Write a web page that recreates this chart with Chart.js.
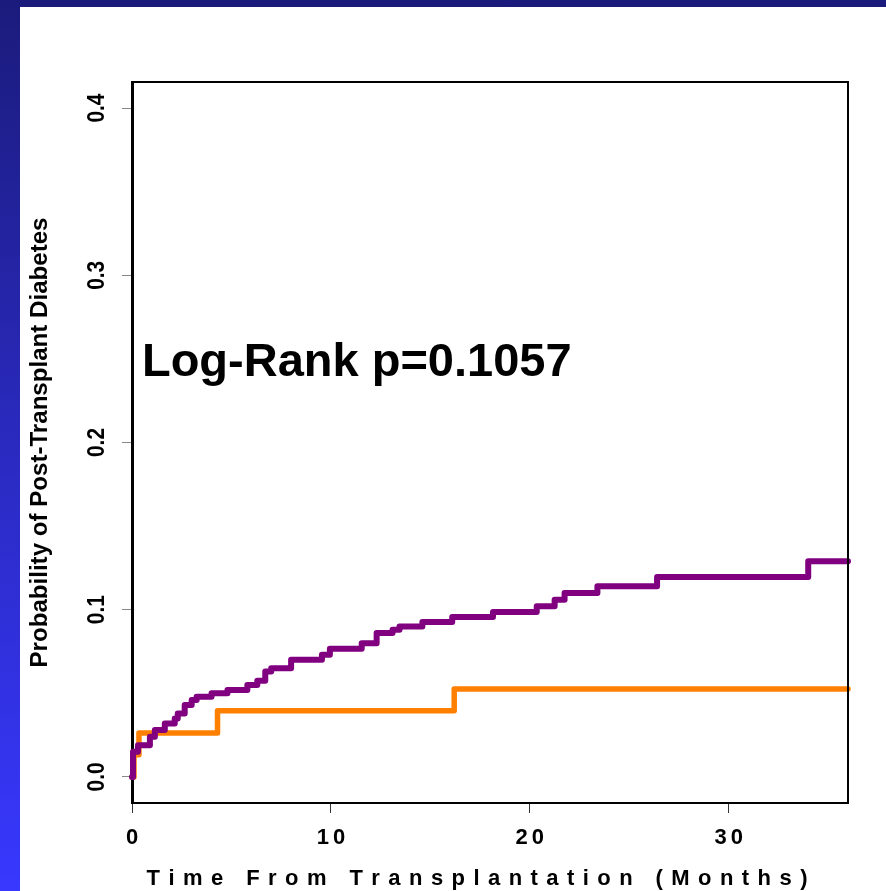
<!DOCTYPE html>
<html>
<head>
<meta charset="utf-8">
<script src="https://cdn.jsdelivr.net/npm/chart.js@4.4.1/dist/chart.umd.min.js"></script>
<style>
  html, body { margin: 0; padding: 0; }
  body {
    width: 886px; height: 891px; overflow: hidden; position: relative;
    background: linear-gradient(to bottom, #1b1b7c 0%, #2a2ac0 50%, #3838ff 100%);
  }
  #panel { position: absolute; left: 20px; top: 7px; width: 866px; height: 884px; background: #fff; }
  canvas { display: block; }
</style>
</head>
<body>
<div id="panel"><canvas id="km" width="866" height="884"></canvas></div>
<script>
// cumulative incidence, months since transplant
const purpleMonths = [0, 0.05, 0.3, 0.9, 1.15, 1.65, 2.15, 2.3, 2.65, 3.0, 3.25, 4.0, 4.8, 5.8, 6.3, 6.7, 7.0, 8.0, 9.55, 9.95, 11.55, 12.3, 13.1, 13.45, 14.6, 16.1, 18.15, 20.35, 21.25, 21.75, 23.4, 26.4, 34.0, 36];
const purpleRisk = [0, 0.015, 0.019, 0.024, 0.028, 0.032, 0.035, 0.038, 0.043, 0.046, 0.048, 0.050, 0.052, 0.055, 0.0575, 0.063, 0.065, 0.070, 0.073, 0.0766, 0.080, 0.086, 0.088, 0.090, 0.0927, 0.0957, 0.0987, 0.102, 0.106, 0.110, 0.114, 0.1196, 0.129, 0.129];

const orangeMonths = [0, 0.1, 0.35, 4.3, 16.2, 36];
const orangeRisk = [0, 0.0132, 0.0263, 0.0395, 0.0526, 0.0526];

const xTicks = [0, 10, 20, 30];
const yTicks = [0, 0.1, 0.2, 0.3, 0.4];

const xTitle = 'Time From Transplantation (Months)';
const yTitle = 'Probability of Post-Transplant Diabetes';
const note = 'Log-Rank p=0.1057';
const noteAt = { x: 0.5, y: 0.24 };

const FONT = '"Liberation Sans", Arial, sans-serif';

function toPoints(xs, ys) {
  return xs.map((x, i) => ({ x: x, y: ys[i] }));
}

// draws text centred on x, with extra space between the letters
function spacedText(ctx, text, x, y, gap) {
  const chars = [...text];
  const widths = chars.map(c => ctx.measureText(c).width);
  const total = widths.reduce((a, b) => a + b, 0) + gap * (chars.length - 1);
  let cx = x - total / 2;
  ctx.textAlign = 'left';
  chars.forEach((c, i) => {
    ctx.fillText(c, cx, y);
    cx += widths[i] + gap;
  });
}

// upright text turned 90deg, squeezed to a given length
function narrowUp(ctx, text, x, y, len) {
  const w = ctx.measureText(text).width;
  ctx.save();
  ctx.translate(x, y);
  ctx.rotate(-Math.PI / 2);
  ctx.scale(len / w, 1);
  ctx.textAlign = 'center';
  ctx.textBaseline = 'middle';
  ctx.fillText(text, 0, 0);
  ctx.restore();
}

const boxPlugin = {
  id: 'box',
  afterDatasetsDraw(chart) {
    const { ctx, chartArea: a } = chart;
    ctx.save();
    ctx.strokeStyle = '#000';
    ctx.lineWidth = 2;
    ctx.beginPath();
    ctx.moveTo(a.left, a.top);
    ctx.lineTo(a.right, a.top);
    ctx.lineTo(a.right, a.bottom);
    ctx.stroke();
    ctx.restore();
  }
};

const labelPlugin = {
  id: 'labels',
  afterDraw(chart) {
    const { ctx } = chart;
    const xs = chart.scales.x, ys = chart.scales.y;
    ctx.save();
    ctx.fillStyle = '#000';

    // x tick labels
    ctx.font = 'bold 22px ' + FONT;
    ctx.textBaseline = 'middle';
    xs.ticks.forEach(t => {
      spacedText(ctx, String(t.value), xs.getPixelForValue(t.value), 831, 4);
    });

    // y tick labels, turned to read upwards
    ctx.font = 'bold 24px ' + FONT;
    ys.ticks.forEach(t => {
      narrowUp(ctx, t.value.toFixed(1), 97 - 20, ys.getPixelForValue(t.value), 29);
    });

    // x title, widely spaced
    ctx.font = 'bold 22px ' + FONT;
    ctx.textBaseline = 'middle';
    const chars = [...xTitle];
    const plain = chars.reduce((s, c) => s + ctx.measureText(c).width, 0);
    const gap = (661 - plain) / (chars.length - 1);
    spacedText(ctx, xTitle, 457, 872, gap);

    // y title, narrow lettering
    ctx.font = 'bold 24px ' + FONT;
    narrowUp(ctx, yTitle, 20, ys.getPixelForValue(0.2), 450);

    // test result
    ctx.font = 'bold 47px ' + FONT;
    ctx.textAlign = 'left';
    ctx.textBaseline = 'alphabetic';
    ctx.fillText(note, xs.getPixelForValue(noteAt.x), ys.getPixelForValue(noteAt.y));

    ctx.restore();
  }
};

new Chart('km', {
  type: 'line',
  data: {
    datasets: [{
      data: toPoints(purpleMonths, purpleRisk),
      borderColor: '#800080',
      borderWidth: 6,
      stepped: true,
      pointRadius: 0,
      fill: false,
      clip: 6,
      borderCapStyle: 'round',
      borderJoinStyle: 'round'
    }, {
      data: toPoints(orangeMonths, orangeRisk),
      borderColor: '#ff8000',
      borderWidth: 5.5,
      stepped: true,
      pointRadius: 0,
      fill: false,
      clip: 6,
      borderCapStyle: 'round',
      borderJoinStyle: 'round'
    }]
  },
  options: {
    responsive: false,
    animation: false,
    devicePixelRatio: 1,
    layout: { padding: { top: 75, right: 38, left: 0, bottom: 0 } },
    plugins: { legend: { display: false }, tooltip: { enabled: false } },
    scales: {
      x: {
        type: 'linear',
        min: 0,
        max: 36,
        afterBuildTicks: s => { s.ticks = xTicks.map(v => ({ value: v })); },
        afterFit: s => { s.height = 88; },
        ticks: { display: false },
        grid: { drawOnChartArea: false, drawTicks: true, tickLength: 10, color: '#333', lineWidth: 1 },
        border: { display: true, color: '#000', width: 2 }
      },
      y: {
        type: 'linear',
        min: -0.0156,
        max: 0.4156,
        afterBuildTicks: s => { s.ticks = yTicks.map(v => ({ value: v })); },
        afterFit: s => { s.width = 112; },
        ticks: { display: false },
        grid: { drawOnChartArea: false, drawTicks: true, tickLength: 10, color: '#888', lineWidth: 1 },
        border: { display: true, color: '#000', width: 3 }
      }
    }
  },
  plugins: [boxPlugin, labelPlugin]
});
</script>
</body>
</html>
